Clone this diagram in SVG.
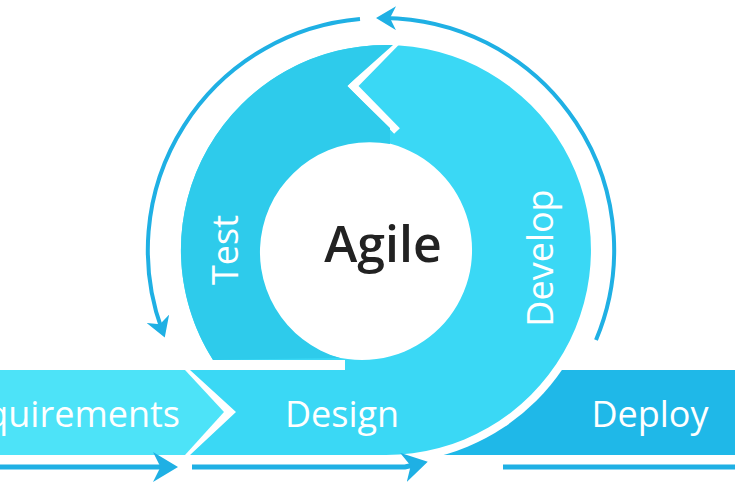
<svg xmlns="http://www.w3.org/2000/svg" width="735" height="490" viewBox="0 0 735 490">
<style>
.lbl{font-family:"Open Sans","DejaVu Sans",sans-serif;fill:#fff;font-size:36px}
.arc{fill:none;stroke:#1fb0e4;stroke-width:4}
.ln{stroke:#1fb0e4;stroke-width:5;fill:none}
</style>
<defs>
<marker id="ah" markerWidth="5" markerHeight="6" refX="3" refY="3" orient="auto" markerUnits="strokeWidth"><path d="M0,0 L5,3 L0,6 L1.5,3 Z" fill="#1fb0e4"/></marker>
</defs>
<rect width="735" height="490" fill="#fff"/>
<g id="deploy">
<rect x="420" y="370" width="315" height="85" fill="#1fb8e8"/>
<circle cx="386" cy="250" r="213" fill="#fff"/>
<text class="lbl" x="650" y="427" text-anchor="middle">Deploy</text>
</g>
<g id="develop">
<path d="M386,45 A205,205 0 1 1 385.9,45 Z M362,140 A110,110 0 1 0 362.1,140 Z" fill="#3ad8f5" fill-rule="evenodd"/>
<text class="lbl" x="0" y="0" transform="translate(553,258) rotate(-90)" text-anchor="middle">Develop</text>
</g>
<path d="M398,40 L353,86 L397,131" stroke="#fff" stroke-width="8" fill="none"/>
<rect x="150" y="360" width="195" height="10" fill="#fff"/>
<g id="test">
<path d="M393,45 A205,205 0 0 0 213,360 L340,358 A110,110 0 0 1 390,144 L390,128 L347,86 Z" fill="#2ecbeb"/>
<text class="lbl" x="0" y="0" transform="translate(238,250) rotate(-90)" text-anchor="middle">Test</text>
</g>
<g id="design">
<path d="M190,370 L386,370 L386,455 L190,455 L236,412 Z" fill="#3ad8f5"/>
<text class="lbl" x="342" y="427" text-anchor="middle">Design</text>
</g>
<g id="requirements">
<path d="M0,370 L185,370 L224,412 L185,455 L0,455 Z" fill="#4de3f8"/>
<text class="lbl" x="180" y="427" text-anchor="end">Requirements</text>
</g>
<g id="agile">
<text x="383" y="262" text-anchor="middle" font-family="'Open Sans','DejaVu Sans',sans-serif" font-size="50" font-weight="600" fill="#222">Agile</text>
</g>
<g id="connectors">
<path class="arc" d="M360,19 A232,232 0 0 0 162,330" marker-end="url(#ah)"/>
<path class="arc" d="M596,340 A232,232 0 0 0 384,18" marker-end="url(#ah)"/>
<path class="ln" d="M0,467 L168,467" marker-end="url(#ah)"/>
<path class="ln" d="M192,467 L405,467 L418,464" marker-end="url(#ah)"/>
<path class="ln" d="M503,467 L735,467"/>
</g>
</svg>
